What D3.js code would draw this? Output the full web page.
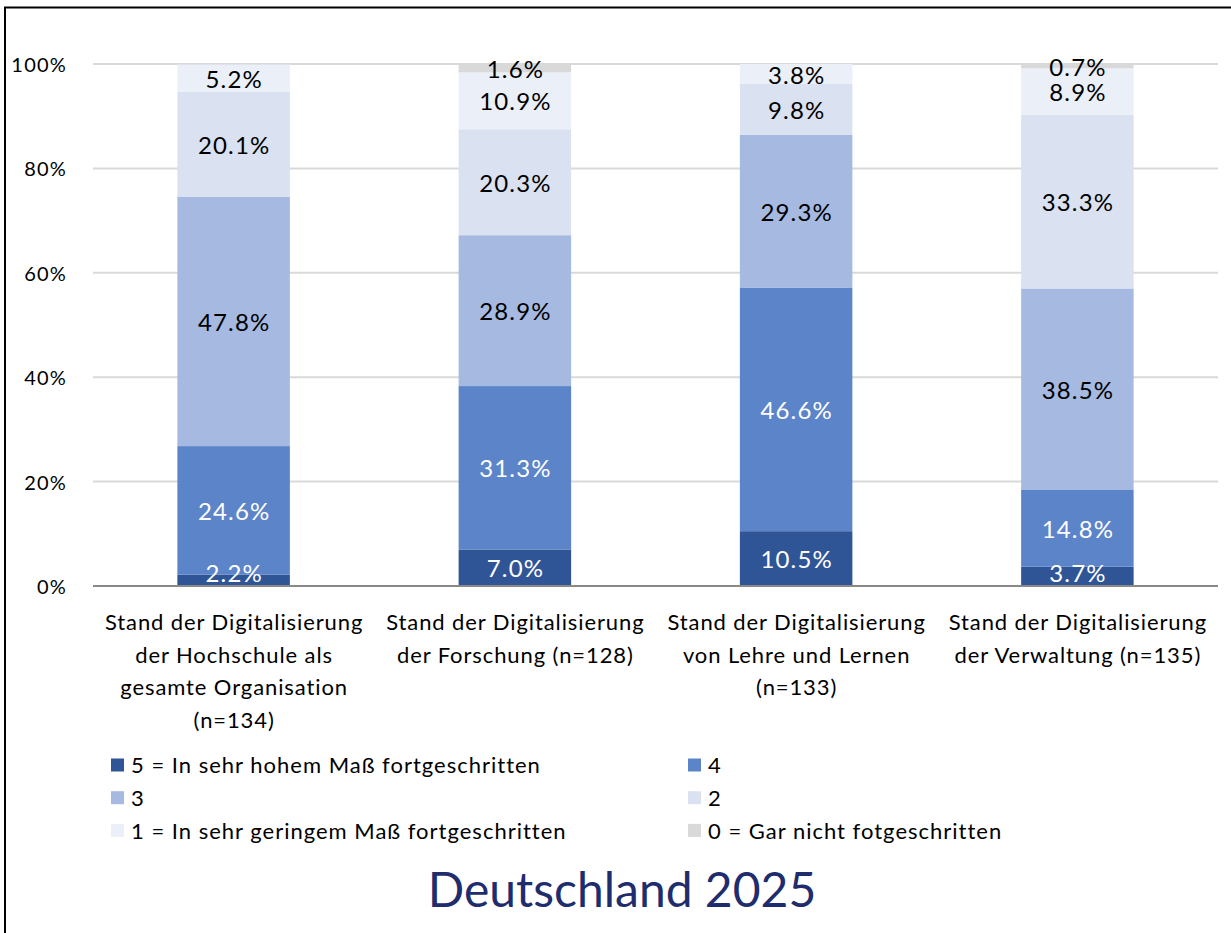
<!DOCTYPE html>
<html>
  <head>
    <style>
      body {
        margin: 0;
        background: #fff;
      }
      svg {
        display: block;
        font-family: Lato, "Noto Sans", sans-serif;
      }
    </style>
  </head>
  <body>
    <script src="https://d3js.org/d3.v7.min.js"></script>
    <script>
      // categories (one array of lines per bar label)
      const categories = [
        ["Stand der Digitalisierung", "der Hochschule als", "gesamte Organisation", "(n=134)"],
        ["Stand der Digitalisierung", "der Forschung (n=128)"],
        ["Stand der Digitalisierung", "von Lehre und Lernen", "(n=133)"],
        ["Stand der Digitalisierung", "der Verwaltung (n=135)"]
      ];

      // series, stacked from the bottom up
      const seriesNames = [
        "5 = In sehr hohem Maß fortgeschritten",
        "4",
        "3",
        "2",
        "1 = In sehr geringem Maß fortgeschritten",
        "0 = Gar nicht fotgeschritten"
      ];
      const s5 = [2.2, 7.0, 10.5, 3.7];
      const s4 = [24.6, 31.3, 46.6, 14.8];
      const s3 = [47.8, 28.9, 29.3, 38.5];
      const s2 = [20.1, 20.3, 9.8, 33.3];
      const s1 = [5.2, 10.9, 3.8, 8.9];
      const s0 = [0, 1.6, 0, 0.7];
      const seriesValues = [s5, s4, s3, s2, s1, s0];

      const colors = ["#2f5597", "#5b84c9", "#a6b9e0", "#dae1f1", "#ebeff8", "#d9d9d9"];
      const labelColors = ["#fff", "#fff", "#000", "#000", "#000", "#000"];

      const yTicks = [0, 20, 40, 60, 80, 100];
      const title = "Deutschland 2025";

      const W = 1231, H = 933;
      const plot = {left: 93, right: 1218, top: 64, bottom: 586};

      const svg = d3.select("body").append("svg")
          .attr("width", W)
          .attr("height", H);

      // frame (cropped on right and bottom)
      svg.append("rect")
          .attr("x", 5)
          .attr("y", 7.5)
          .attr("width", 1400)
          .attr("height", 1000)
          .attr("fill", "none")
          .attr("stroke", "#000")
          .attr("stroke-width", 2);

      const x = d3.scaleBand()
          .domain(d3.range(categories.length))
          .range([plot.left, plot.right])
          .paddingInner(0.6)
          .paddingOuter(0.3);

      const y = d3.scaleLinear()
          .domain([0, 100])
          .range([plot.bottom, plot.top]);

      // gridlines
      svg.append("g")
          .selectAll("line")
          .data(yTicks.filter(d => d > 0))
          .join("line")
          .attr("x1", plot.left)
          .attr("x2", plot.right)
          .attr("y1", d => y(d))
          .attr("y2", d => y(d))
          .attr("stroke", "#d9d9d9")
          .attr("stroke-width", 2);

      // y tick labels
      svg.append("g")
          .selectAll("text")
          .data(yTicks)
          .join("text")
          .attr("x", 67)
          .attr("y", d => y(d))
          .attr("dy", "0.4em")
          .attr("text-anchor", "end")
          .attr("font-size", 20)
          .attr("letter-spacing", 1.2)
          .attr("fill", "#000")
          .text(d => d + "%");

      // stacked data
      const rows = categories.map((c, i) => {
        const r = {i};
        seriesValues.forEach((s, k) => r[k] = s[i]);
        return r;
      });
      const stack = d3.stack().keys(d3.range(seriesValues.length));
      const layers = stack(rows);

      const layer = svg.append("g")
          .selectAll("g")
          .data(layers)
          .join("g")
          .attr("fill", (d, k) => colors[k]);

      layer.selectAll("rect")
          .data(d => d)
          .join("rect")
          .attr("x", d => x(d.data.i))
          .attr("width", x.bandwidth())
          .attr("y", d => y(d[1]))
          .attr("height", d => y(d[0]) - y(d[1]));

      // baseline
      svg.append("line")
          .attr("x1", plot.left)
          .attr("x2", plot.right)
          .attr("y1", y(0))
          .attr("y2", y(0))
          .attr("stroke", "#898989")
          .attr("stroke-width", 2);

      // value labels
      const labels = svg.append("g")
          .attr("text-anchor", "middle")
          .attr("font-size", 24)
          .attr("letter-spacing", 1.2);

      layers.forEach((L, k) => {
        L.forEach(d => {
          const v = d[1] - d[0];
          if (v <= 0) return;
          // keep labels of thin bottom segments inside the plot
          const cy = Math.min(y((d[0] + d[1]) / 2) + 1, plot.bottom - 13);
          labels.append("text")
              .attr("x", x(d.data.i) + x.bandwidth() / 2 + 0.6)
              .attr("y", cy)
              .attr("dy", "0.36em")
              .attr("fill", labelColors[k])
              .text(v.toFixed(1) + "%");
        });
      });

      // category labels
      const cat = svg.append("g")
          .attr("text-anchor", "middle")
          .attr("font-size", 22)
          .attr("letter-spacing", 0.9)
          .attr("fill", "#000");

      categories.forEach((lines, i) => {
        const cx = x(i) + x.bandwidth() / 2 + 0.5;
        const t = cat.append("text")
            .attr("x", cx)
            .attr("y", 630);
        lines.forEach((ln, j) => {
          t.append("tspan")
              .attr("x", cx)
              .attr("dy", j === 0 ? 0 : 32.7)
              .text(ln);
        });
      });

      // legend
      const legend = svg.append("g")
          .attr("font-size", 22)
          .attr("letter-spacing", 1);

      seriesNames.forEach((name, k) => {
        const col = k % 2, row = Math.floor(k / 2);
        const lx = col === 0 ? 111 : 688;
        const ly = 765 + row * 32.7;
        legend.append("rect")
            .attr("x", lx)
            .attr("y", ly - 6.5)
            .attr("width", 13)
            .attr("height", 13)
            .attr("fill", colors[k]);
        legend.append("text")
            .attr("x", lx + 20)
            .attr("y", ly)
            .attr("dy", "0.38em")
            .attr("fill", "#000")
            .text(name);
      });

      // title
      svg.append("text")
          .attr("x", 622)
          .attr("y", 890)
          .attr("dy", "0.36em")
          .attr("text-anchor", "middle")
          .attr("font-size", 48)
          .attr("fill", "#1f2d6e")
          .text(title);
    </script>
  </body>
</html>
